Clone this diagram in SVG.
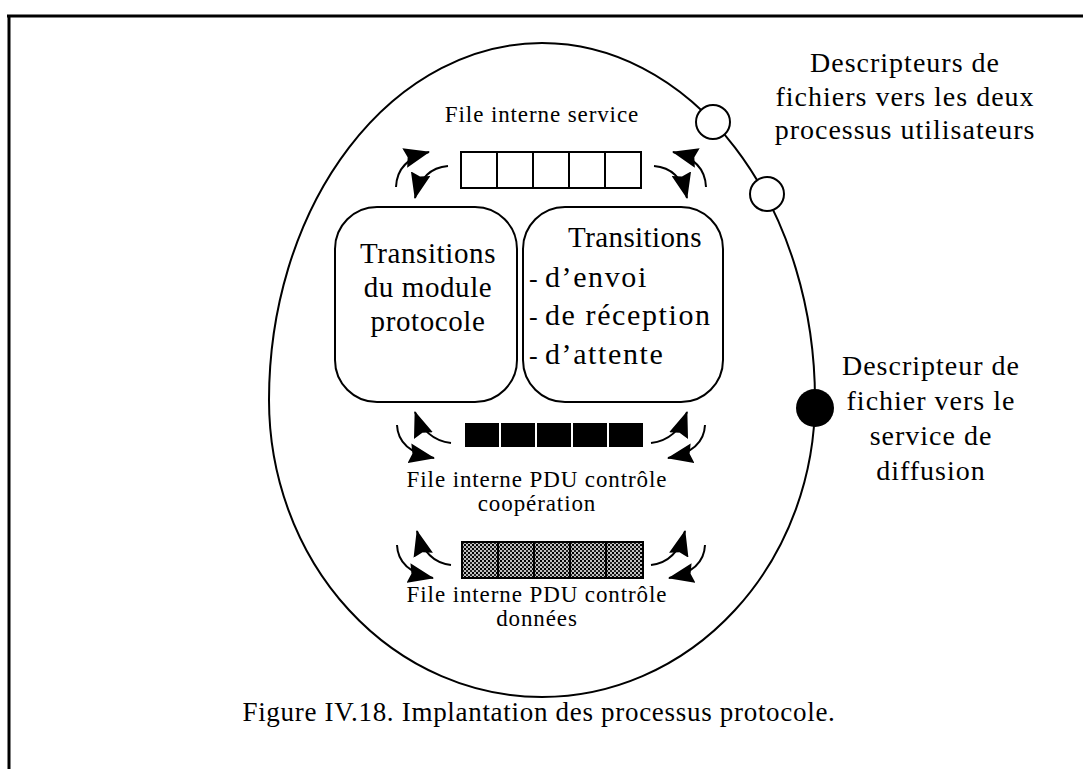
<svg xmlns="http://www.w3.org/2000/svg" width="1083" height="769" viewBox="0 0 1083 769">
<style>
text{font-family:"Liberation Serif","Times New Roman",serif;fill:#000}
.lbl{font-size:23px;text-anchor:middle;letter-spacing:0.9px}
.lb{font-size:29px;letter-spacing:0.6px;text-anchor:middle}
.rb{font-size:30px;letter-spacing:1.6px}
.side{font-size:28px;text-anchor:middle;letter-spacing:1px}
.ln{fill:none;stroke:#000;stroke-width:2}
.arc{fill:none;stroke:#000;stroke-width:2;marker-end:url(#ah)}
.cell{fill:#fff;stroke:#000;stroke-width:2}
.blk{fill:#000}
.box{fill:#fff;stroke:#000;stroke-width:2}
</style>
<defs>
<marker id="ah" markerUnits="userSpaceOnUse" markerWidth="28" markerHeight="20" refX="25" refY="10" orient="auto">
<path d="M0,0 L26,10 L0,20 L3,10 z" fill="#000"/>
</marker>
<pattern id="half" width="4" height="4" patternUnits="userSpaceOnUse">
<rect width="4" height="4" fill="#c0c0c0"/>
<rect width="2" height="2" fill="#000"/>
<rect x="2" y="2" width="2" height="2" fill="#222"/>
</pattern>
</defs>
<rect width="1083" height="769" fill="#fff"/>
<g id="frame">
<line x1="7" y1="16" x2="1083" y2="16" stroke="#000" stroke-width="3"/>
<line x1="9" y1="15" x2="9" y2="769" stroke="#000" stroke-width="3"/>
</g>
<g id="process">
<path class="ln" d="M269,400 A273,357 0 0 1 815,400 A273,297 0 0 1 269,400 Z"/>
</g>
<g id="fd-user1"><circle cx="713" cy="122" r="17" class="box"/></g>
<g id="fd-user2"><circle cx="767" cy="194" r="17" class="box"/></g>
<g id="fd-diffusion"><circle cx="815" cy="408" r="19" fill="#000"/></g>
<g id="label-users">
<text class="side" x="905" y="72">Descripteurs de</text>
<text class="side" x="905" y="106">fichiers vers les deux</text>
<text class="side" x="905" y="139">processus utilisateurs</text>
</g>
<g id="label-diffusion">
<text class="side" x="931" y="375">Descripteur de</text>
<text class="side" x="931" y="410">fichier vers le</text>
<text class="side" x="931" y="445">service de</text>
<text class="side" x="931" y="480">diffusion</text>
</g>
<g id="queue-service">
<text class="lbl" x="542" y="122">File interne service</text>
<rect class="cell" x="461" y="152" width="36" height="36"/>
<rect class="cell" x="497" y="152" width="36" height="36"/>
<rect class="cell" x="533" y="152" width="36" height="36"/>
<rect class="cell" x="569" y="152" width="36" height="36"/>
<rect class="cell" x="605" y="152" width="36" height="36"/>
</g>
<g id="transitions-protocol">
<rect class="box" x="335" y="207" width="182" height="195" rx="42" ry="42"/>
<text class="lb" x="428" y="263">Transitions</text>
<text class="lb" x="428" y="297">du module</text>
<text class="lb" x="428" y="331">protocole</text>
</g>
<g id="transitions-send">
<rect class="box" x="523" y="207" width="200" height="195" rx="42" ry="42"/>
<text x="635" y="247" font-size="29" letter-spacing="0.4" text-anchor="middle">Transitions</text>
<text x="529" y="287" font-size="26">-</text><text class="rb" x="545" y="287">d’envoi</text>
<text x="529" y="325" font-size="26">-</text><text class="rb" x="545" y="325">de réception</text>
<text x="529" y="364" font-size="26">-</text><text class="rb" x="545" y="364">d’attente</text>
</g>
<g id="queue-coop">
<rect class="blk" x="465" y="423" width="34" height="24"/>
<rect class="blk" x="501" y="423" width="34" height="24"/>
<rect class="blk" x="537" y="423" width="34" height="24"/>
<rect class="blk" x="573" y="423" width="34" height="24"/>
<rect class="blk" x="609" y="423" width="34" height="24"/>
<text class="lbl" x="537" y="487">File interne PDU contrôle</text>
<text class="lbl" x="537" y="511">coopération</text>
</g>
<g id="queue-data">
<rect x="462" y="542" width="181" height="36" fill="url(#half)" stroke="#000" stroke-width="2"/>
<line x1="498" y1="542" x2="498" y2="578" stroke="#000" stroke-width="2"/>
<line x1="534" y1="542" x2="534" y2="578" stroke="#000" stroke-width="2"/>
<line x1="570" y1="542" x2="570" y2="578" stroke="#000" stroke-width="2"/>
<line x1="606" y1="542" x2="606" y2="578" stroke="#000" stroke-width="2"/>
<text class="lbl" x="537" y="602">File interne PDU contrôle</text>
<text class="lbl" x="537" y="626">données</text>
</g>
<g id="connectors">
<path class="arc" d="M448,166 Q422,168 415,198"/>
<path class="arc" d="M396,187 Q397,160 429,152"/>
<path class="arc" d="M654,166 Q680,168 687,198"/>
<path class="arc" d="M706,187 Q705,160 673,152"/>
<path class="arc" d="M451,443 Q425,440 415,412"/>
<path class="arc" d="M397,425 Q398,451 434,458"/>
<path class="arc" d="M651,443 Q677,440 687,412"/>
<path class="arc" d="M705,425 Q704,451 668,458"/>
<path class="arc" d="M451,565 Q425,562 417,531"/>
<path class="arc" d="M397,545 Q398,571 433,578"/>
<path class="arc" d="M651,565 Q677,562 685,531"/>
<path class="arc" d="M705,545 Q704,571 669,578"/>
</g>
<g id="caption">
<text x="539" y="721" font-size="27" letter-spacing="0.7" text-anchor="middle">Figure IV.18. Implantation des processus protocole.</text>
</g>
</svg>
